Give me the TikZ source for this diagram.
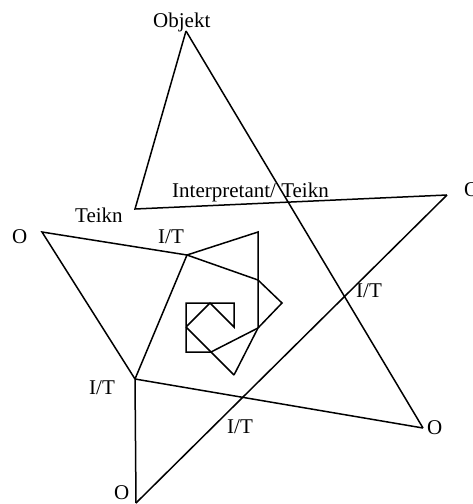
\documentclass[tikz,border=0pt]{standalone}
\usepackage{fontspec}
\setmainfont{Liberation Serif}
\begin{document}
\begin{tikzpicture}[x=1pt,y=-1pt,
  lbl/.style={anchor=base west,inner sep=0pt,font=\fontsize{21}{24}\selectfont},
  edge/.style={line width=1.5pt,line join=miter}]
\useasboundingbox (0,0) rectangle (473,504);
% vertices
\coordinate (obj) at (186,31);
\coordinate (teikn) at (135,209);
\coordinate (oright) at (447,195);
\coordinate (obot) at (136,503);
\coordinate (obr) at (423,428);
\coordinate (it4) at (135,379);
\coordinate (oleft) at (42,232);
\coordinate (a) at (187,255);
\coordinate (b) at (258,232);
\coordinate (c) at (258,280);
\coordinate (d) at (282,303);
\coordinate (e) at (258,328);
\coordinate (f) at (234,375);
\coordinate (g) at (211,352);
\coordinate (h) at (186,352);
\coordinate (i) at (186,303);
\coordinate (j) at (210,303);
\coordinate (k) at (234,303);
\coordinate (l) at (234,327);
\coordinate (m) at (186,327);
% labels
\node[lbl] (tobj) at (153,27) {Objekt};
\node[lbl] (tteikn) at (75,222) {Teikn};
\node[lbl] (tint) at (172,197) {Interpretant/ Teikn};
\node[lbl] (toright) at (464,196) {O};
\node[lbl] (toleft) at (12,243) {O};
\node[lbl] (tit1) at (158,243) {I/T};
\node[lbl] (tit2) at (356,297) {I/T};
\node[lbl] (tit3) at (89,394) {I/T};
\node[lbl] (tit4) at (227,433) {I/T};
\node[lbl] (tobr) at (427,434) {O};
\node[lbl] (tobot) at (114,499) {O};
% outer lines
\draw[edge] (obj) -- (teikn) -- (oright);
\draw[edge] (obj) -- (obr);
\draw[edge] (oright) -- (obot);
\draw[edge] (obr) -- (it4);
\draw[edge] (it4) -- (obot);
\draw[edge] (it4) -- (oleft) -- (a) -- (it4);
% inner spiral
\draw[edge] (a) -- (b) -- (e);
\draw[edge] (a) -- (c) -- (d) -- (e);
\draw[edge] (e) -- (f);
\draw[edge] (e) -- (g);
\draw[edge] (m) -- (f);
\draw[edge] (g) -- (h) -- (i) -- (k) -- (l) -- (j) -- (m);
\end{tikzpicture}
\end{document}
